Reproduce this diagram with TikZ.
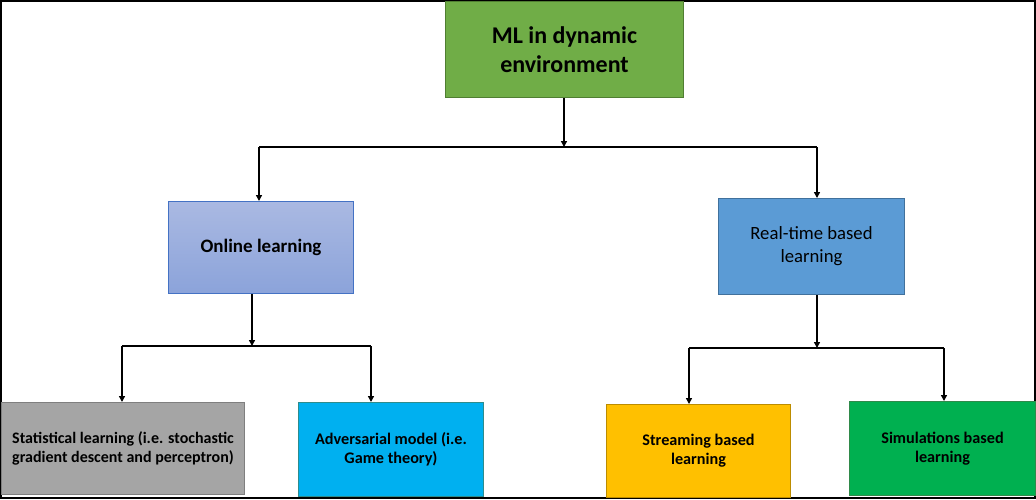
\documentclass[tikz,border=0pt]{standalone}
\usepackage{fontspec}
\setmainfont{Carlito}
\usetikzlibrary{arrows.meta}
\definecolor{cgreen}{HTML}{70AD47}
\definecolor{cgreenb}{HTML}{507E32}
\definecolor{conlt}{HTML}{AAB9E2}
\definecolor{conlb}{HTML}{8BA3DA}
\definecolor{conlbd}{HTML}{4472C4}
\definecolor{creal}{HTML}{5B9BD5}
\definecolor{crealb}{HTML}{41719C}
\definecolor{cgray}{HTML}{A5A5A5}
\definecolor{cgrayb}{HTML}{7F7F7F}
\definecolor{ccyan}{HTML}{00B0F0}
\definecolor{ccyanb}{HTML}{2E8C8C}
\definecolor{cyell}{HTML}{FFC000}
\definecolor{cyellb}{HTML}{BC8C00}
\definecolor{csim}{HTML}{00B050}
\definecolor{csimb}{HTML}{2F8A4A}
\tikzset{
  box/.style={draw, line width=1pt, inner sep=0pt, anchor=north west, align=center, text=black},
  conn/.style={line width=1.4pt},
  arr/.style={line width=1.4pt, -{Triangle[length=6pt,width=6pt]}},
}
\begin{document}
\begin{tikzpicture}[x=1pt,y=-1pt]
\useasboundingbox (0,0) rectangle (1036,499);
\draw[line width=1.5pt] (0.75,0.75) rectangle (1035,498);
% boxes
\node[box, fill=cgreen, draw=cgreenb, minimum width=238pt, minimum height=96pt,
  font=\fontsize{24}{29}\selectfont\bfseries] (top) at (445,1) {ML in dynamic\\environment};
\node[box, top color=conlt, bottom color=conlb, draw=conlbd, minimum width=185pt, minimum height=92pt,
  font=\fontsize{19}{23}\selectfont\bfseries] (onl) at (168,201) {Online learning};
\node[box, fill=creal, draw=crealb, minimum width=186pt, minimum height=96pt,
  font=\fontsize{18.7}{23}\selectfont] (rt) at (718,198) {Real-time based\\learning};
\node[box, fill=cgray, draw=cgrayb, minimum width=243pt, minimum height=92pt,
  font=\fontsize{16}{18.5}\selectfont\bfseries] (stat) at (1,402) {Statistical learning (i.e. stochastic\\gradient descent and perceptron)};
\node[box, fill=ccyan, draw=ccyanb, minimum width=185pt, minimum height=94pt,
  font=\fontsize{16.2}{19}\selectfont\bfseries] (adv) at (298,402) {Adversarial model (i.e.\\Game theory)};
\node[box, fill=cyell, draw=cyellb, minimum width=184pt, minimum height=93pt,
  font=\fontsize{16.2}{19}\selectfont\bfseries] (str) at (606,404) {Streaming based\\learning};
\node[box, fill=csim, draw=csimb, minimum width=186pt, minimum height=94pt,
  font=\fontsize{16.2}{19}\selectfont\bfseries] (sim) at (849,401) {Simulations based\\learning};
% junction coordinates
\coordinate (j1) at (564,147);
\coordinate (j1l) at (259,147);
\coordinate (j1r) at (817,147);
\coordinate (j2) at (252,346);
\coordinate (j2l) at (122,346);
\coordinate (j2r) at (371,346);
\coordinate (j3) at (817,348);
\coordinate (j3l) at (689,348);
\coordinate (j3r) at (944,348);
% connectors
\draw[arr] (top.south -| j1) -- (j1);
\draw[conn] (j1l) -- (j1r);
\draw[arr] (j1l) -- (j1l |- onl.north);
\draw[arr] (j1r) -- (j1r |- rt.north);
\draw[arr] (onl.south -| j2) -- (j2);
\draw[conn] (j2l) -- (j2r);
\draw[arr] (j2l) -- (j2l |- stat.north);
\draw[arr] (j2r) -- (j2r |- adv.north);
\draw[arr] (rt.south -| j3) -- (j3);
\draw[conn] (j3l) -- (j3r);
\draw[arr] (j3l) -- (j3l |- str.north);
\draw[arr] (j3r) -- (j3r |- sim.north);
\end{tikzpicture}
\end{document}
